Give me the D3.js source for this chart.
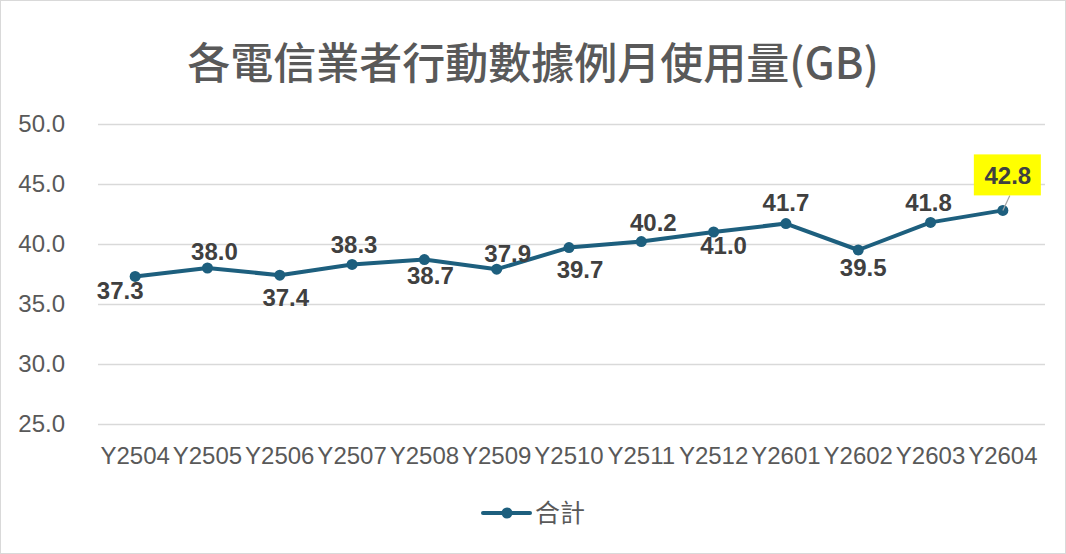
<!DOCTYPE html>
<html>
<head>
<meta charset="utf-8">
<script src="https://cdn.jsdelivr.net/npm/d3@7"></script>
<style>
  body { margin: 0; background: #fff; }
  svg { display: block; }
</style>
</head>
<body>
<svg></svg>
<script>
// chart data
const months = ["Y2504", "Y2505", "Y2506", "Y2507", "Y2508", "Y2509", "Y2510",
  "Y2511", "Y2512", "Y2601", "Y2602", "Y2603", "Y2604"];
const usage = [37.3, 38.0, 37.4, 38.3, 38.7, 37.9, 39.7, 40.2, 41.0, 41.7, 39.5, 41.8, 42.8];
const yTicks = [25, 30, 35, 40, 45, 50];
const seriesName = "合計";
const title = "各電信業者行動數據例月使用量(GB)";

// data label nudges (pixels from each point, baseline)
const labelDx = [-15, 7, 6, 2, 6, 11, 11, 12, 10, 0, 5, -2, 5];
const labelDy = [23, -8, 31, -11, 24, -7, 30, -11, 22, -13, 26, -11, -26];
const highlightIndex = 12; // last label gets a yellow box

const width = 1066;
const height = 554;
const margin = { left: 99, right: 27, top: 124, bottom: 130 };
const lineColor = "#1d5f7e";
const textColor = "#595959";

const svg = d3.select("svg").attr("width", width).attr("height", height);

svg.append("rect")
  .attr("x", 0.5).attr("y", 0.5)
  .attr("width", width - 1).attr("height", height - 1)
  .attr("fill", "#fff").attr("stroke", "#d9d9d9");

const xScale = d3.scaleBand()
  .domain(months)
  .range([margin.left, width - margin.right]);

const yScale = d3.scaleLinear()
  .domain([25, 50])
  .range([height - margin.bottom, margin.top]);

// title
svg.append("text")
  .attr("x", width / 2)
  .attr("y", 79)
  .attr("text-anchor", "middle")
  .attr("font-family", "'Noto Sans CJK TC', 'Noto Sans', sans-serif")
  .attr("font-size", 43)
  .attr("font-weight", 500)
  .attr("fill", textColor)
  .text(title);

// grid + y axis
const yAxis = svg.append("g")
  .attr("transform", "translate(" + (margin.left - 1) + ",0)")
  .call(d3.axisLeft(yScale)
    .tickValues(yTicks)
    .tickFormat(d3.format(".1f"))
    .tickSize(-(width - margin.left - margin.right + 7))
    .tickPadding(33));
yAxis.select(".domain").remove();
yAxis.selectAll("line").attr("stroke", "#d9d9d9").attr("stroke-width", 1.5);
yAxis.selectAll("text")
  .attr("font-family", "'Liberation Sans', Arial, sans-serif")
  .attr("font-size", 24)
  .attr("fill", textColor);

// x axis
const xAxis = svg.append("g")
  .attr("transform", "translate(0," + (height - margin.bottom) + ")")
  .call(d3.axisBottom(xScale).tickSize(0).tickPadding(23));
xAxis.select(".domain").remove();
xAxis.selectAll("text")
  .attr("font-family", "'Liberation Sans', Arial, sans-serif")
  .attr("font-size", 24)
  .attr("fill", textColor);

const cx = (d, i) => xScale(months[i]) + xScale.bandwidth() / 2;

// line
const line = d3.line()
  .x((d, i) => cx(d, i))
  .y((d) => yScale(d));

svg.append("path")
  .datum(usage)
  .attr("fill", "none")
  .attr("stroke", lineColor)
  .attr("stroke-width", 4)
  .attr("stroke-linejoin", "round")
  .attr("d", line);

svg.selectAll("circle.pt")
  .data(usage)
  .enter()
  .append("circle")
  .attr("class", "pt")
  .attr("cx", cx)
  .attr("cy", (d) => yScale(d))
  .attr("r", 5.5)
  .attr("fill", lineColor);

// highlight box + leader line for the last label
const hv = usage[highlightIndex];
const hx = cx(hv, highlightIndex) + labelDx[highlightIndex];
const hy = yScale(hv) + labelDy[highlightIndex];
svg.append("line")
  .attr("x1", cx(hv, highlightIndex)).attr("y1", yScale(hv))
  .attr("x2", hx + 2).attr("y2", hy + 11)
  .attr("stroke", "#a6a6a6").attr("stroke-width", 1.2);
svg.append("rect")
  .attr("x", hx - 34).attr("y", hy - 30)
  .attr("width", 67).attr("height", 41)
  .attr("fill", "#ffff00");

// data labels
svg.append("g")
  .attr("font-family", "'Liberation Sans', Arial, sans-serif")
  .attr("font-size", 24)
  .attr("font-weight", "bold")
  .attr("fill", "#404040")
  .attr("text-anchor", "middle")
  .selectAll("text")
  .data(usage)
  .enter()
  .append("text")
  .attr("x", (d, i) => cx(d, i) + labelDx[i])
  .attr("y", (d, i) => yScale(d) + labelDy[i])
  .text((d) => d.toFixed(1));

// legend
const legend = svg.append("g").attr("transform", "translate(483,513)");
legend.append("line")
  .attr("x1", 0).attr("x2", 47)
  .attr("stroke", lineColor).attr("stroke-width", 4)
  .attr("stroke-linecap", "round");
legend.append("circle")
  .attr("cx", 24).attr("r", 5.5).attr("fill", lineColor);
legend.append("text")
  .attr("x", 52).attr("y", 9)
  .attr("font-family", "'Noto Sans CJK TC', sans-serif")
  .attr("font-size", 25)
  .attr("fill", textColor)
  .text(seriesName);
</script>
</body>
</html>
